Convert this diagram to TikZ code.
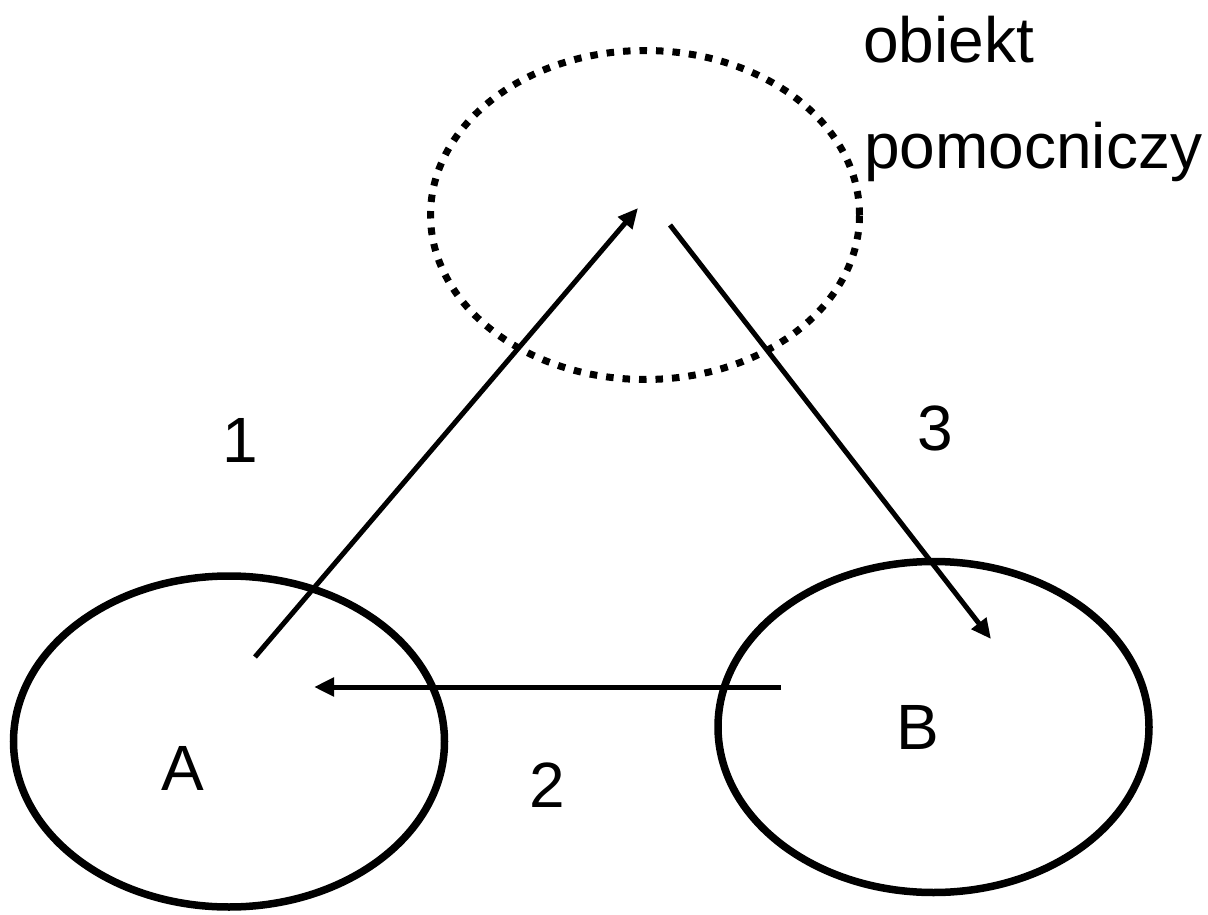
\documentclass[tikz,border=0pt]{standalone}
\usepackage{fontspec}
\setmainfont{Liberation Sans}
\usetikzlibrary{shapes.geometric,arrows.meta}
\tikzset{
  obj/.style={draw, ellipse, line width=7.5pt, minimum width=431pt, minimum height=331pt, inner sep=0pt},
  aux/.style={draw, ellipse, line width=7pt, dash pattern=on 7.5pt off 9pt, minimum width=429pt, minimum height=329pt, inner sep=0pt},
  conn/.style={line width=5pt, -{Triangle[length=20pt,width=18pt]}},
  lbl/.style={font=\fontsize{64}{76}\selectfont, inner sep=0pt}
}
\begin{document}
\begin{tikzpicture}[x=1pt,y=-1pt]
\useasboundingbox (0,0) rectangle (1208,915);
\node[obj] (ea) at (229,741.5) {};
\node[obj] (eb) at (933.5,727) {};
\node[aux] (ep) at (645,215) {};
\node[lbl] (la) at (182.5,768) {A};
\node[lbl] (lb) at (918,727) {B};
\node[lbl] (l1) at (240,440) {1};
\node[lbl] (l2) at (547,785) {2};
\node[lbl] (l3) at (935,428) {3};
\node[lbl, anchor=base west] (t1) at (863,63) {obiekt};
\node[lbl, anchor=base west] (t2) at (864,168) {pomocniczy};
\coordinate (a1s) at (255,657);
\coordinate (a1e) at (638,208);
\coordinate (a3s) at (670,225);
\coordinate (a3e) at (991,639);
\coordinate (a2s) at (781,687);
\coordinate (a2e) at (314,687);
\draw[conn] (a1s) -- (a1e);
\draw[conn] (a3s) -- (a3e);
\draw[conn] (a2s) -- (a2e);
\end{tikzpicture}
\end{document}
